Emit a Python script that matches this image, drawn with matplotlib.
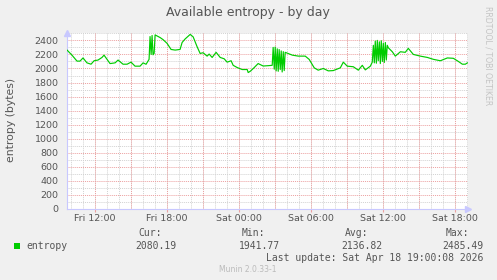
import matplotlib
matplotlib.use('Agg')
import matplotlib.pyplot as plt

title = "Available entropy - by day"
ylabel = "entropy (bytes)"
series_name = "entropy"

# hours since Fri 00:00
hours = [9.67, 10.08, 10.5, 10.75, 11.0, 11.33, 11.67, 11.92, 12.25, 12.58, 12.75, 13.0,
         13.25, 13.67, 13.92, 14.33, 14.67, 15.0, 15.33, 15.75, 16.0, 16.25, 16.5,
         16.58, 16.67, 16.75, 16.83, 16.92, 17.0, 17.42, 17.67, 18.0, 18.33, 18.67,
         19.08, 19.25, 19.5, 19.92, 20.17, 20.5, 20.75, 21.0, 21.33, 21.5, 21.75,
         22.08, 22.42, 22.75, 23.0, 23.33, 23.5, 23.83, 24.25, 24.67, 24.75, 24.92,
         25.17, 25.58, 26.0, 26.42, 26.75,
         26.83, 26.92, 27.0, 27.08, 27.17, 27.25, 27.33, 27.42, 27.5, 27.58, 27.67,
         27.75, 27.83, 27.92, 28.42, 28.92, 29.5, 29.83, 30.25, 30.58, 31.0, 31.42,
         31.83, 32.42, 32.67, 33.0, 33.5, 33.92, 34.25, 34.5, 34.92,
         35.08, 35.17, 35.25, 35.33, 35.42, 35.5, 35.58, 35.67, 35.75, 35.83, 35.92,
         36.0, 36.08, 36.17, 36.25, 36.33, 36.42, 36.75, 37.0, 37.42, 37.83, 38.08,
         38.5, 39.08, 39.67, 40.17, 40.75, 41.33, 41.83, 42.25, 42.58, 42.83, 43.0]
values = [2262, 2190, 2105, 2105, 2150, 2080, 2061, 2110, 2120, 2157, 2190, 2130,
          2070, 2080, 2120, 2061, 2061, 2090, 2033, 2033, 2080, 2060, 2130,
          2455, 2200, 2470, 2195, 2215, 2478, 2440, 2410, 2357, 2271, 2262,
          2271, 2370, 2420, 2485, 2450, 2309, 2214, 2224, 2176, 2205, 2157,
          2230, 2157, 2138, 2090, 2110, 2045, 2014, 1985, 1985, 1942, 1960,
          1999, 2070, 2035, 2040, 2045,
          2300, 1990, 2305, 1965, 2280, 1960, 2270, 1985, 2250, 1950, 2240,
          1970, 2230, 2224, 2190, 2176, 2176, 2129, 2009, 1976, 2000, 1966,
          1970, 2009, 2090, 2033, 2025, 1976, 2045, 1980, 2033,
          2090, 2330, 2080, 2390, 2075, 2400, 2110, 2380, 2070, 2395, 2100,
          2360, 2085, 2370, 2120, 2330, 2294, 2238, 2176, 2238, 2230, 2286,
          2200, 2176, 2157, 2130, 2110, 2150, 2145, 2100, 2061, 2061, 2080]

xtick_hours = [12, 18, 24, 30, 36, 42]
xtick_labels = ["Fri 12:00", "Fri 18:00", "Sat 00:00", "Sat 06:00", "Sat 12:00", "Sat 18:00"]
ytick_values = list(range(0, 2401, 200))
stats_labels = ["Cur:", "Min:", "Avg:", "Max:"]
stats_values = ["2080.19", "1941.77", "2136.82", "2485.49"]
last_update = "Last update: Sat Apr 18 19:00:08 2026"
footer = "Munin 2.0.33-1"
watermark = "RRDTOOL / TOBI OETIKER"

W, H = 497, 280
BG = '#f0f0f0'
TXT = '#555555'
GREEN = '#00cc00'
AXC = '#c8c8ff'

fig = plt.figure(figsize=(W / 100, H / 100), dpi=100, facecolor=BG)
L, R, T, B = 67, 468, 33, 209
ax = fig.add_axes([L / W, 1 - B / H, (R - L) / W, (B - T) / H])
ax.set_facecolor('white')
ax.set_xlim(9.667, 43.05)
ax.set_ylim(0, 2505)

dot = (0, (1, 1))
# minor grid
for h in range(10, 44):
    ax.axvline(h, color='#d2d2d2', lw=0.7, ls=dot, zorder=1)
for v in range(100, 2501, 200):
    ax.axhline(v, color='#d2d2d2', lw=0.7, ls=dot, zorder=1)
# major grid
for h in range(12, 44, 3):
    ax.axvline(h, color='#eca0a0', lw=0.7, ls=dot, zorder=2)
for v in ytick_values[1:]:
    ax.axhline(v, color='#eca0a0', lw=0.7, ls=dot, zorder=2)

ax.plot(hours, values, color=GREEN, lw=0.85, zorder=5)

for s in ['top', 'right']:
    ax.spines[s].set_visible(False)
for s in ['left', 'bottom']:
    ax.spines[s].set_color(AXC)
    ax.spines[s].set_linewidth(0.8)
ax.plot([0], [1.0], marker='^', color=AXC, markersize=4, transform=ax.transAxes,
        clip_on=False, zorder=6)
ax.plot([1.0], [0], marker='>', color=AXC, markersize=4, transform=ax.transAxes,
        clip_on=False, zorder=6)

ax.set_xticks(xtick_hours)
ax.set_xticklabels(xtick_labels, fontsize=6.8, color=TXT)
ax.set_yticks(ytick_values)
ax.set_yticklabels([str(v) for v in ytick_values], fontsize=6.8, color=TXT)
ax.tick_params(axis='x', length=2, color='#eca0a0', pad=1.5)
ax.tick_params(axis='y', length=0, pad=6)

fig.text(248 / W, 1 - 12.5 / H, title, ha='center', va='center', fontsize=9, color=TXT)
fig.text(11.5 / W, 1 - 120 / H, ylabel, ha='center', va='center', rotation=90,
         fontsize=7.8, color=TXT)
fig.text(488 / W, 1 - 56 / H, watermark, ha='center', va='center', rotation=270,
         fontsize=5.6, color='#c4c4c4')

mono = 'DejaVu Sans Mono'
fig.patches.append(plt.Rectangle((14 / W, 1 - 248.5 / H), 6 / W, 6 / H,
                                 transform=fig.transFigure, facecolor=GREEN,
                                 edgecolor='none'))
fig.text(26.5 / W, 1 - 246 / H, series_name, ha='left', va='center', fontsize=7,
         family=mono, color=TXT)
hdr_x = [162, 265, 368, 469.5]
val_x = [176.5, 279.5, 382, 483.5]
for lab, hx in zip(stats_labels, hdr_x):
    fig.text(hx / W, 1 - 233 / H, lab, ha='right', va='center', fontsize=7,
             family=mono, color=TXT)
for val, vx in zip(stats_values, val_x):
    fig.text(vx / W, 1 - 246 / H, val, ha='right', va='center', fontsize=7,
             family=mono, color=TXT)
fig.text(483.5 / W, 1 - 258 / H, last_update, ha='right', va='center', fontsize=7,
         family=mono, color=TXT)
fig.text(248 / W, 1 - 269 / H, footer, ha='center', va='center', fontsize=5.5,
         color='#bbbbbb')

fig.savefig('out.png', dpi=100, facecolor=BG)
